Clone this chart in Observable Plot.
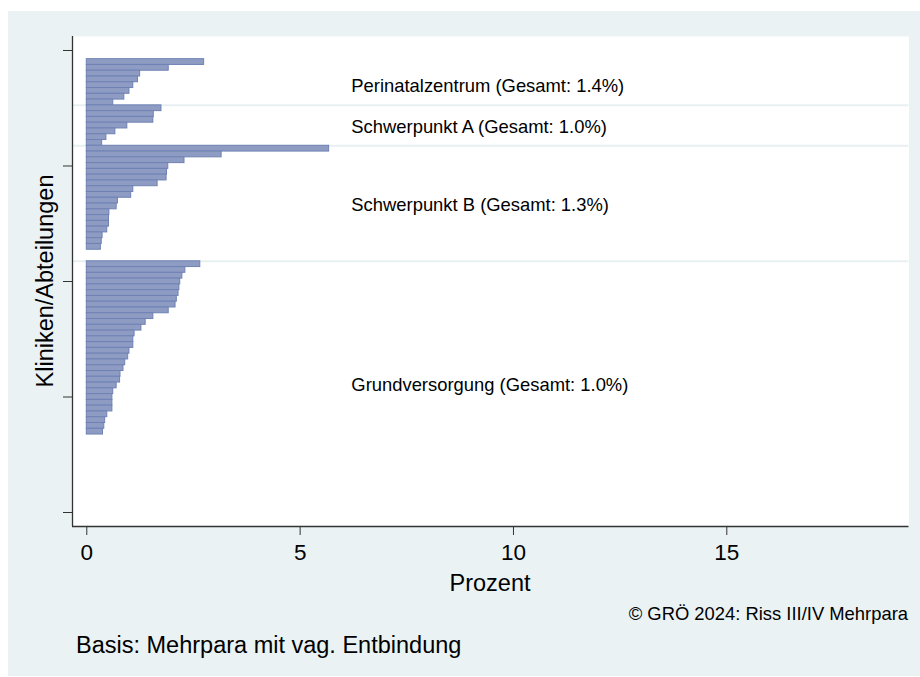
<!DOCTYPE html>
<html>
<head>
<meta charset="utf-8">
<script src="https://cdn.jsdelivr.net/npm/d3@7"></script>
<script src="https://cdn.jsdelivr.net/npm/@observablehq/plot@0.6"></script>
<style>
  html, body { margin: 0; padding: 0; background: #ffffff; width: 920px; height: 677px; overflow: hidden; }
  body { position: relative; font-family: "Liberation Sans", Arial, sans-serif; color: #000; }
  #panel { position: absolute; left: 8px; top: 11px; width: 912px; height: 665px; background: #eaf2f3; }
  #chart { position: absolute; left: 0; top: 0; }
  .txt { position: absolute; white-space: nowrap; line-height: 1; }
</style>
</head>
<body>
<div id="panel"></div>
<div id="chart"></div>
<div class="txt" id="ylab" style="font-size:23.5px; left:46px; top:281px; transform: translate(-50%,-50%) rotate(-90deg);">Kliniken/Abteilungen</div>
<div class="txt" id="xlab" style="font-size:23.5px; left:490px; top:572px; transform: translateX(-50%);">Prozent</div>
<div class="txt" id="copy" style="font-size:18.4px; right:12px; top:605px;">© GRÖ 2024: Riss III/IV Mehrpara</div>
<div class="txt" id="basis" style="font-size:23.5px; left:76px; top:634px;">Basis: Mehrpara mit vag. Entbindung</div>
<script>
// ---- data ----
const categories = ["Perinatalzentrum", "Schwerpunkt A", "Schwerpunkt B", "Grundversorgung"];
const gesamt = ["1.4%", "1.0%", "1.3%", "1.0%"];
const perinatal = [2.75, 1.92, 1.25, 1.20, 1.09, 1.00, 0.88, 0.62];
const schwerpunktA = [1.75, 1.57, 1.56, 0.95, 0.67, 0.46, 0.36];
const schwerpunktB = [5.68, 3.16, 2.29, 1.91, 1.88, 1.87, 1.66, 1.09, 1.04, 0.73, 0.70, 0.53, 0.52, 0.52, 0.48, 0.37, 0.35, 0.33, 0, 0];
const grundversorgung = [2.66, 2.31, 2.24, 2.19, 2.17, 2.15, 2.11, 2.08, 1.92, 1.56, 1.38, 1.28, 1.12, 1.09, 1.09, 1.00, 0.97, 0.90, 0.86, 0.79, 0.78, 0.70, 0.62, 0.60, 0.60, 0.60, 0.48, 0.43, 0.41, 0.38];
const labelY = [73.9, 66.7, 53.3, 22.0];
const xTicks = [0, 5, 10, 15];
const yTicks = [0, 20, 40, 60, 80];
const firstRank = 78;

// ---- build table ----
const groups = [perinatal, schwerpunktA, schwerpunktB, grundversorgung];
const rows = [];
const boundaries = [];
let rank = firstRank;
groups.forEach((vals, gi) => {
  if (gi > 0) boundaries.push(rank + 0.5);
  vals.forEach(v => { rows.push({group: categories[gi], rank, value: v}); rank--; });
});
const bars = rows.filter(d => d.value > 0);
const labels = categories.map((c, i) => ({text: `${c} (Gesamt: ${gesamt[i]})`, y: labelY[i]}));

const W = 920, H = 600, mL = 72, mR = 11.5, mT = 36, mB = 74;
const xDomain = [-0.335, 19.27];
const yDomain = [-2.424, 82.424];

const chart = Plot.plot({
  width: W, height: H,
  marginLeft: mL, marginRight: mR, marginTop: mT, marginBottom: mB,
  style: {background: "transparent", fontFamily: "Liberation Sans, Arial, sans-serif", color: "#000"},
  x: {domain: xDomain, ticks: xTicks},
  y: {domain: yDomain, ticks: yTicks},
  marks: [
    Plot.frame({fill: "white", stroke: null}),
    Plot.ruleY(boundaries, {stroke: "#e8f0f2", strokeWidth: 2}),
    Plot.rect(bars, {
      x1: 0, x2: "value",
      y1: d => d.rank - 0.5, y2: d => d.rank + 0.5,
      fill: "#8e9cc4", stroke: "#6f82b3", strokeWidth: 1
    }),
    Plot.text(labels, {x: 6.2, y: "y", text: "text", textAnchor: "start", fontSize: 18.4, fill: "#000"}),
    Plot.ruleX([xDomain[0]], {stroke: "#333", strokeWidth: 1.3}),
    Plot.ruleY([yDomain[0]], {stroke: "#333", strokeWidth: 1.3}),
    Plot.axisX({ticks: xTicks, tickSize: 9, tickPadding: 9, fontSize: 22.5, label: null, stroke: "#333"}),
    Plot.axisY({ticks: yTicks, tickSize: 9, tickFormat: () => "", label: null, stroke: "#333"})
  ]
});
document.getElementById("chart").appendChild(chart);
</script>
</body>
</html>
